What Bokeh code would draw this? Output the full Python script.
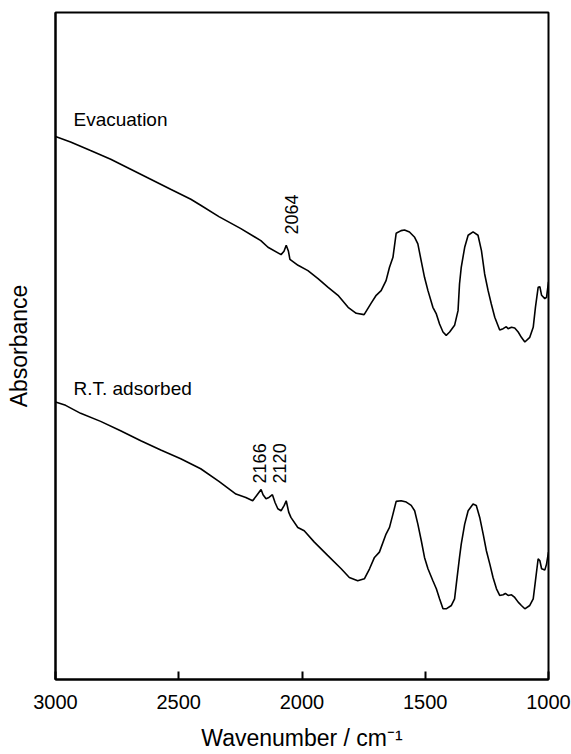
import math

from bokeh.core.properties import value
from bokeh.embed import file_html
from bokeh.models import ColumnDataSource, FixedTicker, Range1d
from bokeh.plotting import figure
from bokeh.resources import INLINE

# IR spectra: wavenumber (cm^-1) and absorbance (arbitrary units)
evac_wn = [3000, 2939, 2858, 2776, 2695, 2614, 2533, 2451, 2411, 2337, 2248, 2167,
           2138, 2085, 2073, 2064, 2055, 2049, 2016, 1976, 1935, 1894, 1854, 1813,
           1780, 1748, 1720, 1699, 1679, 1659, 1645, 1631, 1618, 1598, 1584, 1564,
           1543, 1530, 1516, 1503, 1489, 1469, 1455, 1442, 1428, 1415, 1401, 1381,
           1367, 1361, 1354, 1340, 1326, 1306, 1286, 1272, 1259, 1245, 1232, 1218,
           1198, 1184, 1171, 1164, 1150, 1137, 1123, 1110, 1096, 1076, 1062, 1053,
           1042, 1035, 1028, 1015, 1008, 1000]
evac_abs = [0.814, 0.806, 0.793, 0.780, 0.765, 0.750, 0.735, 0.720, 0.711, 0.694,
            0.676, 0.658, 0.648, 0.637, 0.642, 0.651, 0.642, 0.630, 0.621, 0.613,
            0.601, 0.588, 0.576, 0.558, 0.549, 0.547, 0.564, 0.576, 0.583, 0.598,
            0.618, 0.633, 0.669, 0.673, 0.674, 0.671, 0.663, 0.653, 0.627, 0.603,
            0.583, 0.558, 0.548, 0.533, 0.521, 0.516, 0.521, 0.531, 0.553, 0.593,
            0.618, 0.648, 0.666, 0.671, 0.666, 0.643, 0.608, 0.583, 0.563, 0.543,
            0.524, 0.526, 0.529, 0.526, 0.528, 0.527, 0.521, 0.513, 0.506, 0.513,
            0.528, 0.558, 0.588, 0.589, 0.576, 0.571, 0.573, 0.596]

rt_wn = [3000, 2959, 2898, 2817, 2736, 2654, 2573, 2492, 2411, 2337, 2268, 2228,
         2200, 2184, 2166, 2158, 2146, 2134, 2120, 2109, 2098, 2085, 2072, 2064,
         2054, 2045, 2017, 1991, 1950, 1896, 1841, 1808, 1774, 1747, 1726, 1706,
         1686, 1659, 1645, 1631, 1618, 1598, 1577, 1557, 1543, 1530, 1516, 1503,
         1489, 1469, 1455, 1442, 1428, 1415, 1394, 1381, 1374, 1361, 1354, 1340,
         1326, 1306, 1293, 1279, 1265, 1252, 1238, 1225, 1211, 1198, 1184, 1175,
         1164, 1150, 1137, 1123, 1110, 1096, 1076, 1062, 1053, 1042, 1035, 1028,
         1015, 1008, 1000]
rt_abs = [0.416, 0.411, 0.399, 0.387, 0.373, 0.358, 0.344, 0.331, 0.316, 0.297,
          0.278, 0.273, 0.268, 0.276, 0.285, 0.277, 0.271, 0.273, 0.277, 0.265,
          0.256, 0.253, 0.261, 0.268, 0.251, 0.243, 0.228, 0.223, 0.206, 0.186,
          0.166, 0.153, 0.148, 0.151, 0.166, 0.183, 0.191, 0.218, 0.228, 0.248,
          0.267, 0.268, 0.266, 0.261, 0.253, 0.233, 0.208, 0.183, 0.166, 0.148,
          0.136, 0.121, 0.106, 0.106, 0.111, 0.121, 0.143, 0.183, 0.203, 0.233,
          0.253, 0.263, 0.261, 0.243, 0.218, 0.193, 0.173, 0.153, 0.136, 0.126,
          0.127, 0.129, 0.126, 0.127, 0.123, 0.116, 0.111, 0.106, 0.111, 0.121,
          0.148, 0.181, 0.178, 0.166, 0.164, 0.173, 0.191]

# Band assignments marked on the spectra
evac_peaks = [2064]
rt_peaks = [2166, 2120]

x_ticks = [3000, 2500, 2000, 1500, 1000]

FONT = "Liberation Sans"

p = figure(width=571, height=754,
           x_range=Range1d(3000, 1000), y_range=Range1d(0, 1),
           output_backend="svg", toolbar_location=None,
           min_border_left=55, min_border_right=23,
           min_border_top=12, min_border_bottom=75)

p.grid.visible = False
p.outline_line_color = "black"
p.outline_line_width = 2
p.background_fill_color = "white"
p.border_fill_color = "white"

# bottom axis: inward ticks only
xa = p.xaxis[0]
xa.ticker = FixedTicker(ticks=x_ticks)
xa.major_tick_in = 8
xa.major_tick_out = 0
xa.minor_tick_line_color = None
xa.major_tick_line_width = 2
xa.axis_line_width = 2
xa.major_label_text_font = FONT
xa.major_label_text_font_size = "20px"
xa.major_label_text_color = "black"
xa.major_label_standoff = 15
xa.axis_label = "Wavenumber / cm\u207b\u00b9"
xa.axis_label_text_font = FONT
xa.axis_label_text_font_size = "23px"
xa.axis_label_text_font_style = "normal"
xa.axis_label_text_color = "black"
xa.axis_label_standoff = 13

# left axis: label only
ya = p.yaxis[0]
ya.ticker = FixedTicker(ticks=[])
ya.major_tick_line_color = None
ya.minor_tick_line_color = None
ya.axis_line_width = 2
ya.axis_label = "Absorbance"
ya.axis_label_text_font = FONT
ya.axis_label_text_font_size = "23px"
ya.axis_label_text_font_style = "normal"
ya.axis_label_text_color = "black"
ya.axis_label_standoff = 24

p.line(evac_wn, evac_abs, line_color="black", line_width=1.6)
p.line(rt_wn, rt_abs, line_color="black", line_width=1.6)

# spectrum names
p.text(x=[2927, 2927], y=[0.840, 0.436], text=["Evacuation", "R.T. adsorbed"],
       text_font=value(FONT), text_font_size="19px", text_color="black",
       text_align="left", text_baseline="alphabetic")

# vertical peak labels, placed just above each band
def peak_y(wn_list, ab_list, w):
    return ab_list[wn_list.index(w)]

lbl_x, lbl_y, lbl_t = [], [], []
for w in evac_peaks:
    lbl_x.append(w - 20)
    lbl_y.append(peak_y(evac_wn, evac_abs, w) + 0.016)
    lbl_t.append(str(w))
for w, dx in zip(rt_peaks, [8, -28]):
    lbl_x.append(w + dx)
    lbl_y.append(0.294)
    lbl_t.append(str(w))

src = ColumnDataSource(dict(x=lbl_x, y=lbl_y, t=lbl_t))
p.text(x="x", y="y", text="t", source=src, angle=math.pi / 2,
       text_font=value(FONT), text_font_size="18px", text_color="black",
       text_align="left", text_baseline="middle")

open("out.html", "w").write(file_html(p, INLINE))
